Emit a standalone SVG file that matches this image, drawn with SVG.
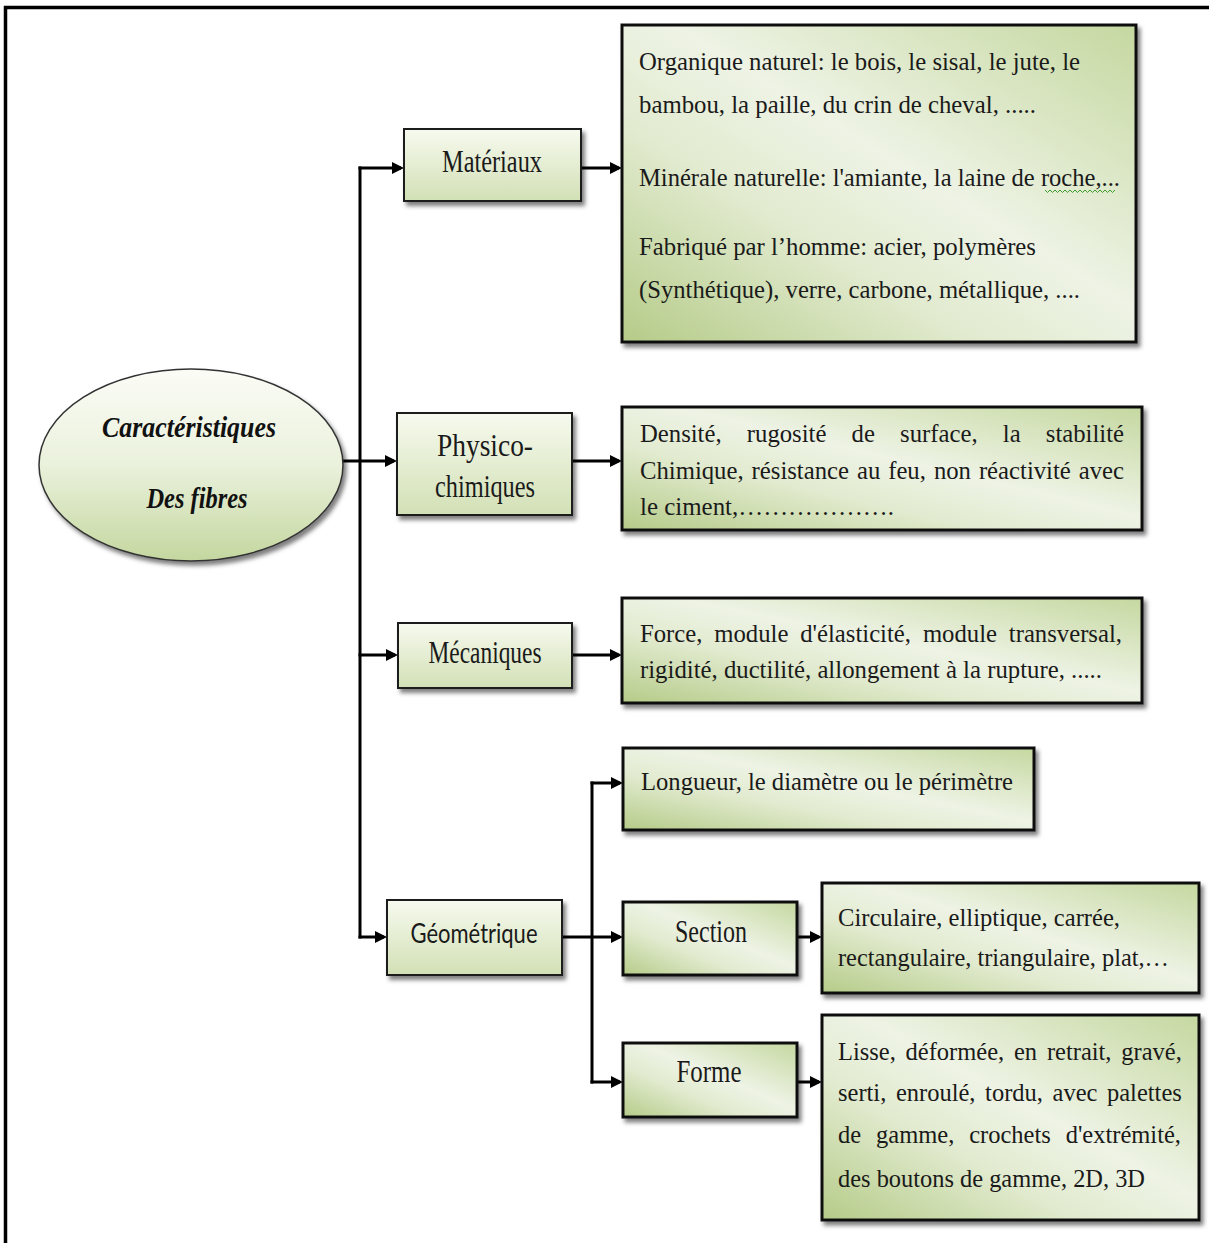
<svg xmlns="http://www.w3.org/2000/svg" width="1209" height="1243" viewBox="0 0 1209 1243">
<style>
.frame{stroke:#000;stroke-width:3.5;fill:none}
.con{stroke:#000;stroke-width:3;fill:none}
.conm{stroke:#000;stroke-width:3;fill:none;marker-end:url(#ah)}
.lbl{fill:url(#gSmall);stroke:#1a1a1a;stroke-width:2;filter:url(#sh)}
.big{fill:url(#gBig);stroke:#111;stroke-width:3;filter:url(#sh)}
.t{font-family:"Liberation Serif","Times New Roman",serif;font-size:26px;fill:#1a1a1a}
.lt{font-family:"Liberation Serif","Times New Roman",serif;font-size:31px;fill:#1a1a1a;text-anchor:middle}
.sans{font-family:Lato,"Open Sans","Liberation Sans",sans-serif;font-size:26px;fill:#1a1a1a;text-anchor:middle}
.title{font-family:"Liberation Serif","Times New Roman",serif;font-size:30px;font-weight:bold;font-style:italic;fill:#111;text-anchor:middle}
</style>
<defs>
<linearGradient id="gSmall" x1="0" y1="0" x2="0" y2="1"><stop offset="0" stop-color="#f7faef"/><stop offset="1" stop-color="#d2e0b5"/></linearGradient>
<linearGradient id="gBig" x1="0" y1="1" x2="1" y2="0"><stop offset="0" stop-color="#b5cb88"/><stop offset="0.35" stop-color="#e2ebd0"/><stop offset="0.55" stop-color="#eef3e5"/><stop offset="1" stop-color="#c5d8a0"/></linearGradient>
<linearGradient id="gEll" x1="0" y1="0" x2="0" y2="1"><stop offset="0" stop-color="#fbfcf6"/><stop offset="0.5" stop-color="#eaf1dc"/><stop offset="1" stop-color="#c4d79f"/></linearGradient>
<filter id="sh" x="-10%" y="-10%" width="125%" height="135%"><feDropShadow dx="3" dy="4" stdDeviation="2" flood-color="#000" flood-opacity="0.5"/></filter>
<marker id="ah" markerWidth="12" markerHeight="12" refX="9" refY="6" orient="auto" markerUnits="userSpaceOnUse"><path d="M0,0 L12,6 L0,12 z" fill="#000"/></marker>
</defs>
<rect width="1209" height="1243" fill="#fff"/>
<g id="frame">
<path class="frame" d="M4,7.5 H1209 M5.5,6 V1243"/>
</g>
<g id="connectors">
<path class="con" d="M360,166.5 V938.5"/>
<path class="conm" d="M358.5,168 H401"/>
<path class="conm" d="M343,461 H394"/>
<path class="conm" d="M358.5,655 H395"/>
<path class="conm" d="M358.5,937 H384"/>
<path class="conm" d="M581,168 H619"/>
<path class="conm" d="M572,461 H619"/>
<path class="conm" d="M572,655 H619"/>
<path class="conm" d="M562,937 H620"/>
<path class="con" d="M592,781.5 V1083.5"/>
<path class="conm" d="M590.5,783 H620"/>
<path class="conm" d="M590.5,1082 H620"/>
<path class="conm" d="M797,937 H819"/>
<path class="conm" d="M797,1082 H819"/>
</g>
<g id="root">
<ellipse cx="191" cy="465" rx="152" ry="96" fill="url(#gEll)" stroke="#333" stroke-width="1.5" filter="url(#sh)"/>
<text class="title" x="189" y="437" textLength="174" lengthAdjust="spacingAndGlyphs">Caractéristiques</text>
<text class="title" x="197" y="508" textLength="101" lengthAdjust="spacingAndGlyphs">Des fibres</text>
</g>
<g id="materiaux">
<rect class="lbl" x="404" y="129" width="177" height="72"/>
<text class="lt" x="492" y="172" textLength="100" lengthAdjust="spacingAndGlyphs">Matériaux</text>
</g>
<g id="physico">
<rect class="lbl" x="397" y="413" width="175" height="102"/>
<text class="lt" x="485" y="456" textLength="96" lengthAdjust="spacingAndGlyphs">Physico-</text>
<text class="lt" x="485" y="497" textLength="100" lengthAdjust="spacingAndGlyphs">chimiques</text>
</g>
<g id="mecaniques">
<rect class="lbl" x="398" y="623" width="174" height="65"/>
<text class="lt" x="485" y="663" textLength="113" lengthAdjust="spacingAndGlyphs">Mécaniques</text>
</g>
<g id="geometrique">
<rect class="lbl" x="387" y="900" width="175" height="75"/>
<text class="sans" x="474" y="943" textLength="127" lengthAdjust="spacingAndGlyphs">Géométrique</text>
</g>
<g id="box-materiaux">
<rect class="big" x="622" y="25" width="514" height="317"/>
<text class="t" x="639" y="70" textLength="441" lengthAdjust="spacingAndGlyphs">Organique naturel: le bois, le sisal, le jute, le</text>
<text class="t" x="639" y="113" textLength="397" lengthAdjust="spacingAndGlyphs">bambou, la paille, du crin de cheval, .....</text>
<text class="t" x="639" y="186" textLength="481" lengthAdjust="spacingAndGlyphs">Minérale naturelle: l'amiante, la laine de roche,...</text>
<path d="M1045,190 l2.5,2.5 l2.5,-2.5 l2.5,2.5 l2.5,-2.5 l2.5,2.5 l2.5,-2.5 l2.5,2.5 l2.5,-2.5 l2.5,2.5 l2.5,-2.5 l2.5,2.5 l2.5,-2.5 l2.5,2.5 l2.5,-2.5 l2.5,2.5 l2.5,-2.5 l2.5,2.5 l2.5,-2.5 l2.5,2.5 l2.5,-2.5 l2.5,2.5 l2.5,-2.5 l2.5,2.5 l2.5,-2.5 l2.5,2.5 l2.5,-2.5 l2.5,2.5 l2.5,-2.5" fill="none" stroke="#3d9a2b" stroke-width="1"/>
<text class="t" x="639" y="255" textLength="397" lengthAdjust="spacingAndGlyphs">Fabriqué par l’homme: acier, polymères</text>
<text class="t" x="639" y="298" textLength="441" lengthAdjust="spacingAndGlyphs">(Synthétique), verre, carbone, métallique, ....</text>
</g>
<g id="box-physico">
<rect class="big" x="622" y="407" width="520" height="123"/>
<text class="t" x="640" y="442" textLength="81.6" lengthAdjust="spacingAndGlyphs">Densité,</text>
<text class="t" x="746.8" y="442" textLength="79.6" lengthAdjust="spacingAndGlyphs">rugosité</text>
<text class="t" x="851.6" y="442" textLength="23.3" lengthAdjust="spacingAndGlyphs">de</text>
<text class="t" x="900.1" y="442" textLength="77.5" lengthAdjust="spacingAndGlyphs">surface,</text>
<text class="t" x="1002.8" y="442" textLength="17.8" lengthAdjust="spacingAndGlyphs">la</text>
<text class="t" x="1045.8" y="442" textLength="78.2" lengthAdjust="spacingAndGlyphs">stabilité</text>
<text class="t" x="640" y="479" textLength="103.6" lengthAdjust="spacingAndGlyphs">Chimique,</text>
<text class="t" x="751.6" y="479" textLength="97.4" lengthAdjust="spacingAndGlyphs">résistance</text>
<text class="t" x="857" y="479" textLength="23.3" lengthAdjust="spacingAndGlyphs">au</text>
<text class="t" x="888.2" y="479" textLength="37.7" lengthAdjust="spacingAndGlyphs">feu,</text>
<text class="t" x="933.9" y="479" textLength="37.1" lengthAdjust="spacingAndGlyphs">non</text>
<text class="t" x="978.9" y="479" textLength="91.9" lengthAdjust="spacingAndGlyphs">réactivité</text>
<text class="t" x="1078.8" y="479" textLength="45.2" lengthAdjust="spacingAndGlyphs">avec</text>
<text class="t" x="640" y="515" textLength="254" lengthAdjust="spacingAndGlyphs">le ciment,……………….</text>
</g>
<g id="box-mecaniques">
<rect class="big" x="622" y="598" width="520" height="105"/>
<text class="t" x="640" y="642" textLength="62.4" lengthAdjust="spacingAndGlyphs">Force,</text>
<text class="t" x="714.3" y="642" textLength="74.1" lengthAdjust="spacingAndGlyphs">module</text>
<text class="t" x="800.2" y="642" textLength="110.8" lengthAdjust="spacingAndGlyphs">d'élasticité,</text>
<text class="t" x="922.9" y="642" textLength="74.1" lengthAdjust="spacingAndGlyphs">module</text>
<text class="t" x="1008.8" y="642" textLength="113.2" lengthAdjust="spacingAndGlyphs">transversal,</text>
<text class="t" x="640" y="678" textLength="462" lengthAdjust="spacingAndGlyphs">rigidité, ductilité, allongement à la rupture, .....</text>
</g>
<g id="longueur">
<rect class="big" x="623" y="748" width="411" height="82"/>
<text class="t" x="641" y="790" textLength="372" lengthAdjust="spacingAndGlyphs">Longueur, le diamètre ou le périmètre</text>
</g>
<g id="section">
<rect class="big" x="623" y="902" width="174" height="73"/>
<text class="lt" x="711" y="942" textLength="72" lengthAdjust="spacingAndGlyphs">Section</text>
</g>
<g id="forme">
<rect class="big" x="623" y="1043" width="174" height="74"/>
<text class="lt" x="709" y="1082" textLength="65" lengthAdjust="spacingAndGlyphs">Forme</text>
</g>
<g id="box-section">
<rect class="big" x="822" y="883" width="377" height="110"/>
<text class="t" x="838" y="926" textLength="282" lengthAdjust="spacingAndGlyphs">Circulaire, elliptique, carrée,</text>
<text class="t" x="838" y="966" textLength="331" lengthAdjust="spacingAndGlyphs">rectangulaire, triangulaire, plat,…</text>
</g>
<g id="box-forme">
<rect class="big" x="822" y="1015" width="377" height="205"/>
<text class="t" x="838" y="1060" textLength="57.8" lengthAdjust="spacingAndGlyphs">Lisse,</text>
<text class="t" x="905.6" y="1060" textLength="98.6" lengthAdjust="spacingAndGlyphs">déformée,</text>
<text class="t" x="1014" y="1060" textLength="23.1" lengthAdjust="spacingAndGlyphs">en</text>
<text class="t" x="1046.9" y="1060" textLength="64.6" lengthAdjust="spacingAndGlyphs">retrait,</text>
<text class="t" x="1121.3" y="1060" textLength="60.5" lengthAdjust="spacingAndGlyphs">gravé,</text>
<text class="t" x="838" y="1101" textLength="48.3" lengthAdjust="spacingAndGlyphs">serti,</text>
<text class="t" x="895.9" y="1101" textLength="79.6" lengthAdjust="spacingAndGlyphs">enroulé,</text>
<text class="t" x="985.1" y="1101" textLength="57.8" lengthAdjust="spacingAndGlyphs">tordu,</text>
<text class="t" x="1052.5" y="1101" textLength="44.9" lengthAdjust="spacingAndGlyphs">avec</text>
<text class="t" x="1107" y="1101" textLength="74.8" lengthAdjust="spacingAndGlyphs">palettes</text>
<text class="t" x="838" y="1143" textLength="23.1" lengthAdjust="spacingAndGlyphs">de</text>
<text class="t" x="876" y="1143" textLength="78.3" lengthAdjust="spacingAndGlyphs">gamme,</text>
<text class="t" x="969.2" y="1143" textLength="81.6" lengthAdjust="spacingAndGlyphs">crochets</text>
<text class="t" x="1065.7" y="1143" textLength="115.3" lengthAdjust="spacingAndGlyphs">d'extrémité,</text>
<text class="t" x="838" y="1187" textLength="307" lengthAdjust="spacingAndGlyphs">des boutons de gamme, 2D, 3D</text>
</g>
</svg>
